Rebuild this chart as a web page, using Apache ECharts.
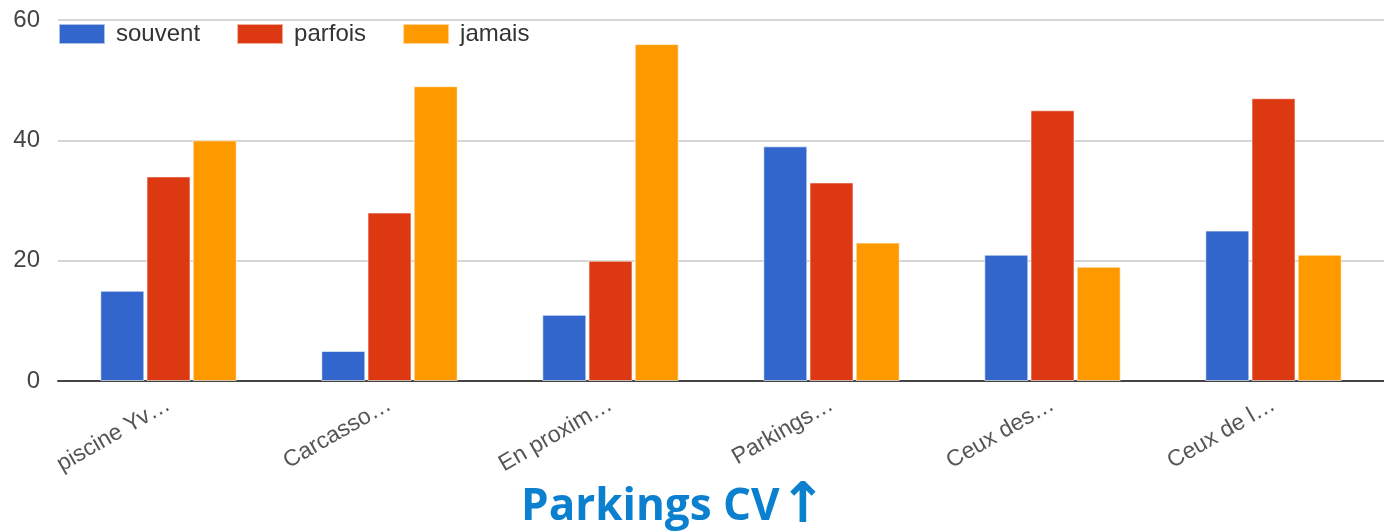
<!DOCTYPE html>
<html>
<head>
<meta charset="utf-8">
<script src="https://cdn.jsdelivr.net/npm/echarts@6/dist/echarts.min.js"></script>
<style>
  html, body { margin: 0; padding: 0; background: #fff; }
  #chart { width: 1384px; height: 532px; }
</style>
</head>
<body>
<div id="chart"></div>
<script>
const categories = ['piscine Yv…', 'Carcasso…', 'En proxim…', 'Parkings…', 'Ceux des…', 'Ceux de l…'];
const souvent = [15, 5, 11, 39, 21, 25];
const parfois = [34, 28, 20, 33, 45, 47];
const jamais = [40, 49, 56, 23, 19, 21];
const yTicks = { min: 0, max: 60, interval: 20 };

const chart = echarts.init(document.getElementById('chart'));

const barStyle = (color) => ({
  color: color,
  borderColor: 'rgba(255,255,255,0.6)',
  borderWidth: 1,
});

chart.setOption({
  animation: false,
  textStyle: { fontFamily: 'Arial, "Liberation Sans", sans-serif' },
  title: {
    text: 'Parkings CV{a|↑}',
    left: 516,
    top: 474,
    textStyle: {
      fontFamily: '"Open Sans", "Noto Sans", sans-serif',
      fontWeight: 'bold',
      fontSize: 44,
      color: '#0a80cf',
      rich: {
        a: {
          fontFamily: '"DejaVu Sans", sans-serif',
          fontWeight: 'bold',
          fontSize: 56,
          color: '#0a80cf',
        },
      },
    },
  },
  legend: {
    left: 53,
    top: 17,
    itemWidth: 46,
    itemHeight: 20,
    itemGap: 36,
    icon: 'rect',
    textStyle: { fontSize: 24, color: '#333', padding: [0, 0, 0, 6] },
    data: ['souvent', 'parfois', 'jamais'],
  },
  grid: { left: 58, right: 0, top: 20, bottom: 151, containLabel: false },
  xAxis: {
    type: 'category',
    data: categories,
    axisTick: { show: false },
    axisLine: { lineStyle: { color: '#444', width: 2 } },
    axisLabel: { rotate: 30, fontSize: 23, color: '#555', margin: 22, interval: 0 },
  },
  yAxis: {
    type: 'value',
    min: yTicks.min,
    max: yTicks.max,
    interval: yTicks.interval,
    axisLabel: { fontSize: 24, color: '#444', margin: 18 },
    splitLine: { lineStyle: { color: '#d6d6d6', width: 2 } },
  },
  series: [
    { name: 'souvent', type: 'bar', data: souvent, barWidth: 44, barGap: '5%', itemStyle: barStyle('#3366cc') },
    { name: 'parfois', type: 'bar', data: parfois, barWidth: 44, barGap: '5%', itemStyle: barStyle('#dc3912') },
    { name: 'jamais', type: 'bar', data: jamais, barWidth: 44, barGap: '5%', itemStyle: barStyle('#ff9900') },
  ],
});
</script>
</body>
</html>
